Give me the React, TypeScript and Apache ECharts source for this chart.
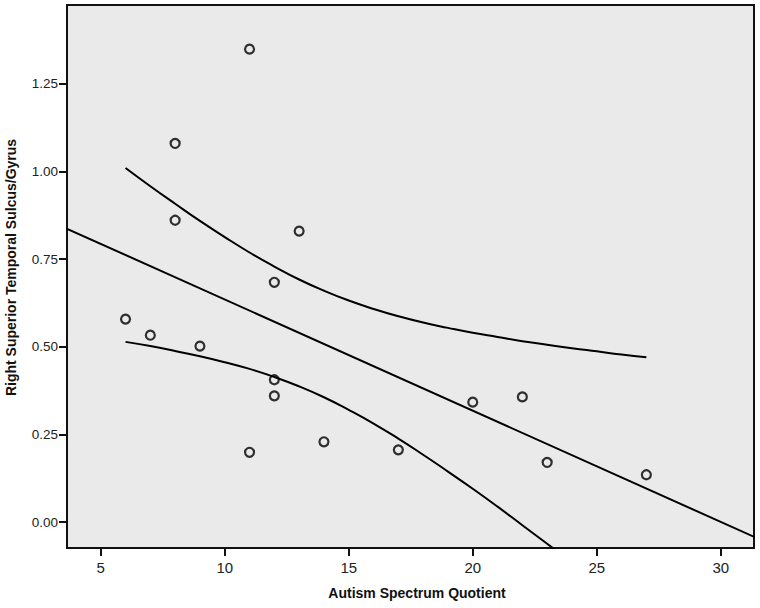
import React, { useEffect, useRef } from "react";
import * as echarts from "echarts";

// Observed points
const scatterX = [6, 7, 8, 8, 9, 11, 11, 12, 12, 12, 13, 14, 17, 20, 22, 23, 27];
const scatterY = [0.579, 0.533, 1.08, 0.861, 0.502, 1.349, 0.199, 0.684, 0.406, 0.36, 0.83, 0.229, 0.206, 0.342, 0.357, 0.17, 0.135];

// Fit line (read at the plot edges)
const fitX = [3.6, 31.4];
const fitY = [0.838, -0.044];

// Confidence band curves
const bandX = [6, 7, 8, 9, 10, 11, 12, 13, 14, 15, 16, 17, 18, 19, 20, 21, 22, 23, 24, 25, 26, 27];
const upperBand = [1.01, 0.958, 0.908, 0.859, 0.813, 0.769, 0.729, 0.692, 0.66, 0.632, 0.608, 0.587, 0.569, 0.554, 0.54, 0.528, 0.516, 0.506, 0.496, 0.487, 0.478, 0.47];
const lowerBand = [0.514, 0.502, 0.488, 0.473, 0.456, 0.437, 0.414, 0.387, 0.356, 0.32, 0.281, 0.238, 0.192, 0.144, 0.095, 0.044, -0.009, -0.062, -0.115, -0.169, -0.224, -0.279];

const xTicks = [5, 10, 15, 20, 25, 30];
const yTicks = [0, 0.25, 0.5, 0.75, 1.0, 1.25];

const xTitle = "Autism Spectrum Quotient";
const yTitle = "Right Superior Temporal Sulcus/Gyrus";

export default function App() {
  const ref = useRef<HTMLDivElement>(null);

  useEffect(() => {
    if (!ref.current) return;
    const chart = echarts.init(ref.current, undefined, { renderer: "svg" });
    const font = '"Liberation Sans", Arial, Helvetica, sans-serif';
    const lineStyle = { color: "#000", width: 2 };

    chart.setOption({
      animation: false,
      backgroundColor: "#ffffff",
      grid: {
        left: 67,
        right: 6,
        top: 5,
        bottom: 60,
        show: true,
        backgroundColor: "#eaeaea",
        borderColor: "#111",
        borderWidth: 2,
      },
      xAxis: {
        type: "value",
        min: 3.64,
        max: 31.34,
        axisLine: { show: true, onZero: false, lineStyle: { color: "#111", width: 2 } },
        axisTick: { show: true, length: 8, customValues: xTicks, lineStyle: { color: "#111", width: 2 } },
        axisLabel: {
          customValues: xTicks,
          margin: 12,
          fontSize: 15,
          fontFamily: font,
          color: "#222",
          formatter: (v: number) => String(v),
        },
        splitLine: { show: false },
      },
      yAxis: {
        type: "value",
        min: -0.074,
        max: 1.475,
        axisLine: { show: true, onZero: false, lineStyle: { color: "#111", width: 2 } },
        axisTick: { show: true, length: 8, customValues: yTicks, lineStyle: { color: "#111", width: 2 } },
        axisLabel: {
          customValues: yTicks,
          margin: 9,
          fontSize: 13.5,
          fontFamily: font,
          color: "#222",
          formatter: (v: number) => v.toFixed(2),
        },
        splitLine: { show: false },
      },
      graphic: [
        {
          type: "text",
          x: 417,
          y: 593,
          style: {
            text: xTitle,
            fontSize: 14,
            fontWeight: "bold",
            fontFamily: font,
            fill: "#111",
            align: "center",
            verticalAlign: "middle",
          },
        },
        {
          type: "text",
          x: 10.5,
          y: 267.5,
          rotation: Math.PI / 2,
          style: {
            text: yTitle,
            fontSize: 14,
            fontWeight: "bold",
            fontFamily: font,
            fill: "#111",
            align: "center",
            verticalAlign: "middle",
          },
        },
      ],
      series: [
        {
          type: "line",
          data: fitX.map((x, i) => [x, fitY[i]]),
          showSymbol: false,
          lineStyle,
          clip: true,
          z: 2,
        },
        {
          type: "line",
          data: bandX.map((x, i) => [x, upperBand[i]]),
          showSymbol: false,
          smooth: true,
          lineStyle,
          clip: true,
          z: 2,
        },
        {
          type: "line",
          data: bandX.map((x, i) => [x, lowerBand[i]]),
          showSymbol: false,
          smooth: true,
          lineStyle,
          clip: true,
          z: 2,
        },
        {
          type: "scatter",
          data: scatterX.map((x, i) => [x, scatterY[i]]),
          symbol: "circle",
          symbolSize: 9,
          itemStyle: { color: "rgba(0,0,0,0)", borderColor: "#000", borderWidth: 2.2 },
          z: 3,
        },
      ],
    });

    return () => chart.dispose();
  }, []);

  return (
    <div
      ref={ref}
      style={{ position: "fixed", left: 0, top: 0, width: 760, height: 608 }}
    />
  );
}
